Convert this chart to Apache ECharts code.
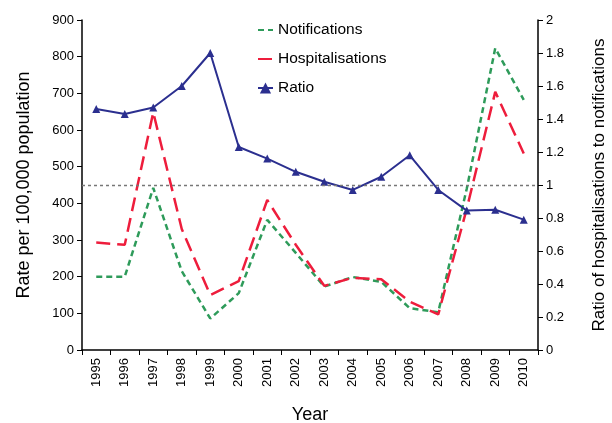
<!DOCTYPE html>
<html>
<head>
<meta charset="utf-8">
<script src="https://cdn.jsdelivr.net/npm/echarts@6/dist/echarts.min.js"></script>
<style>
  html, body { margin: 0; padding: 0; background: #fff; }
  #chart { width: 612px; height: 423px; }
</style>
</head>
<body>
<div id="chart"></div>
<script>
// data
const years = ['1995', '1996', '1997', '1998', '1999', '2000', '2001', '2002',
  '2003', '2004', '2005', '2006', '2007', '2008', '2009', '2010'];
const notifications = [200, 200, 442, 215, 86, 155, 355, 265, 173, 199, 186, 114, 103, 440, 823, 682];
const hospitalisations = [293, 287, 648, 330, 150, 188, 409, 287, 175, 197, 193, 132, 97, 385, 704, 536];
const ratio = [1.46, 1.43, 1.47, 1.60, 1.80, 1.23, 1.16, 1.08, 1.02, 0.97, 1.05, 1.18, 0.97, 0.845, 0.85, 0.79];

const chart = echarts.init(document.getElementById('chart'));
const font = 'Liberation Sans, Arial, sans-serif';

const option = {
  animation: false,
  textStyle: { fontFamily: font },
  grid: { left: 82, right: 74, top: 20, bottom: 73, outerBoundsMode: 'none', containLabel: false },
  legend: {
    orient: 'vertical',
    left: 252,
    top: 17,
    itemGap: 13,
    itemWidth: 15,
    itemHeight: 14,
    textStyle: { fontSize: 15.5, color: '#000', fontFamily: font },
    data: [
      { name: 'Notifications', itemStyle: { opacity: 0 } },
      { name: 'Hospitalisations', itemStyle: { opacity: 0 } },
      { name: 'Ratio' }
    ]
  },
  xAxis: {
    type: 'category',
    data: years,
    name: 'Year',
    nameLocation: 'middle',
    nameGap: 56,
    nameTextStyle: { fontSize: 18, color: '#000' },
    axisLine: { lineStyle: { color: '#000', width: 1.5 } },
    axisTick: { show: true, inside: false, length: 5, lineStyle: { color: '#000' } },
    axisLabel: { rotate: 90, fontSize: 13, color: '#000', margin: 8 }
  },
  yAxis: [
    {
      type: 'value',
      min: 0, max: 900, interval: 100,
      name: 'Rate per 100,000 population',
      nameLocation: 'middle',
      nameGap: 49,
      nameTextStyle: { fontSize: 18, color: '#000' },
      axisLine: { show: true, lineStyle: { color: '#000', width: 1.5 } },
      axisTick: { show: true, length: 5, lineStyle: { color: '#000' } },
      axisLabel: { fontSize: 13, color: '#000' },
      splitLine: { show: false }
    },
    {
      type: 'value',
      min: 0, max: 2, interval: 0.2,
      name: 'Ratio of hospitalisations to notifications',
      nameLocation: 'middle',
      nameGap: 53,
      nameRotate: 90,
      nameTextStyle: { fontSize: 17, color: '#000' },
      axisLine: { show: true, lineStyle: { color: '#000', width: 1.5 } },
      axisTick: { show: true, length: 5, lineStyle: { color: '#000' } },
      axisLabel: { fontSize: 13, color: '#000', formatter: v => String(Math.round(v * 10) / 10) },
      splitLine: { show: false }
    }
  ],
  series: [
    {
      name: 'Notifications',
      type: 'line',
      data: notifications,
      symbol: 'none',
      itemStyle: { color: '#2e9b5a' },
      lineStyle: { color: '#2e9b5a', width: 2.5, type: [6, 4] }
    },
    {
      name: 'Hospitalisations',
      type: 'line',
      data: hospitalisations,
      symbol: 'none',
      itemStyle: { color: '#ee1d3c' },
      lineStyle: { color: '#ee1d3c', width: 2.5, type: [14, 7] }
    },
    {
      name: 'Ratio',
      type: 'line',
      yAxisIndex: 1,
      data: ratio,
      symbol: 'triangle',
      symbolSize: 8,
      itemStyle: { color: '#2b2f8f' },
      lineStyle: { color: '#2b2f8f', width: 2 },
      markLine: {
        silent: true,
        symbol: 'none',
        label: { show: false },
        lineStyle: { color: '#777', type: [3, 3], width: 1.3 },
        data: [{ yAxis: 1 }]
      },
      z: 3
    }
  ]
};

chart.setOption(option);
</script>
</body>
</html>
